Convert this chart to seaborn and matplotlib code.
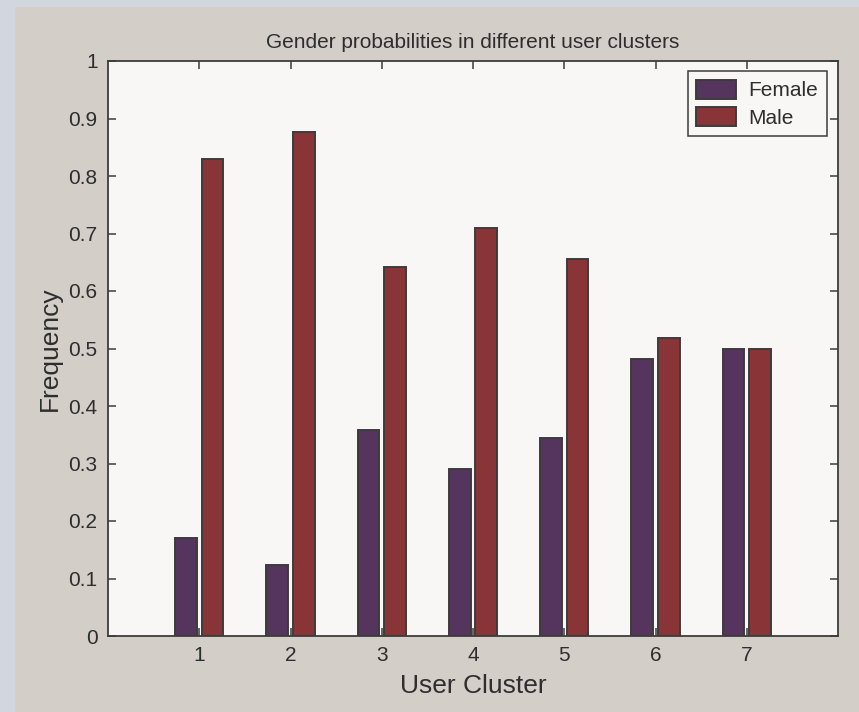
import matplotlib
matplotlib.use("Agg")
import matplotlib.pyplot as plt
from matplotlib.patches import Rectangle
import seaborn as sns
import pandas as pd

clusters = ["1", "2", "3", "4", "5", "6", "7"]
female = [0.170, 0.124, 0.358, 0.291, 0.344, 0.481, 0.500]
male = [0.830, 0.876, 0.642, 0.709, 0.656, 0.519, 0.500]
y_ticks = [0, 0.1, 0.2, 0.3, 0.4, 0.5, 0.6, 0.7, 0.8, 0.9, 1]
y_tick_labels = ["0", "0.1", "0.2", "0.3", "0.4", "0.5", "0.6", "0.7", "0.8", "0.9", "1"]

df = pd.DataFrame({
    "cluster": clusters * 2,
    "value": female + male,
    "gender": ["Female"] * len(clusters) + ["Male"] * len(clusters),
})

sns.set_theme(style="ticks")
plt.rcParams["font.family"] = ["Liberation Sans", "DejaVu Sans"]

fig_bg = "#d4cec9"
ax_bg = "#f8f7f5"
ink = "#3c3c3c"
text_c = "#2e2e2e"
palette = {"Female": "#55355e", "Male": "#893538"}

fig = plt.figure(figsize=(8.59, 7.12), dpi=100, facecolor="#d2d6df")
fig.patches.append(Rectangle((15 / 859, 0), 1, 1 - 7 / 712, transform=fig.transFigure,
                             facecolor=fig_bg, edgecolor="none", zorder=-10))
ax = fig.add_axes([108 / 859, 1 - 636 / 712, 730 / 859, 575 / 712])
ax.set_facecolor(ax_bg)

sns.barplot(data=df, x="cluster", y="value", hue="gender", order=clusters,
            hue_order=["Female", "Male"], palette=palette, width=0.58,
            edgecolor=ink, linewidth=1.4, saturation=1, ax=ax, legend=True)

# narrow the bars so a small gap separates each pair
bar_w = 0.24
for p in ax.patches:
    if p.get_height() > 0:
        cx = p.get_x() + p.get_width() / 2
        p.set_x(cx - bar_w / 2)
        p.set_width(bar_w)

ax.set_xlim(-1, 7)
ax.set_ylim(0, 1)
ax.set_yticks(y_ticks)
ax.set_yticklabels(y_tick_labels)

for s in ax.spines.values():
    s.set_visible(True)
    s.set_color(ink)
    s.set_linewidth(1.3)

ax.tick_params(direction="in", length=5.8, width=1.1, color=ink, labelcolor=text_c,
               labelsize=15, top=True, right=True, pad=7)
ax.tick_params(axis="y", pad=7.5)

ax.set_title("Gender probabilities in different user clusters", fontsize=15,
             color=text_c, pad=9)
ax.set_xlabel("User Cluster", fontsize=19, color=text_c, labelpad=7)
ax.set_ylabel("Frequency", fontsize=19, color=text_c, labelpad=5)

leg = ax.legend(loc="upper right", bbox_to_anchor=((827 - 108) / 730, (636 - 71) / 575),
                borderaxespad=0, fontsize=15, frameon=True, fancybox=False,
                handlelength=1.9, handleheight=1.02, handletextpad=0.6,
                borderpad=0.42, labelspacing=0.32)
leg.get_frame().set_edgecolor(ink)
leg.get_frame().set_facecolor(ax_bg)
leg.get_frame().set_alpha(1)
leg.get_frame().set_linewidth(1.1)
for t in leg.get_texts():
    t.set_color(text_c)

fig.savefig("out.png", dpi=100, facecolor=fig.get_facecolor())
